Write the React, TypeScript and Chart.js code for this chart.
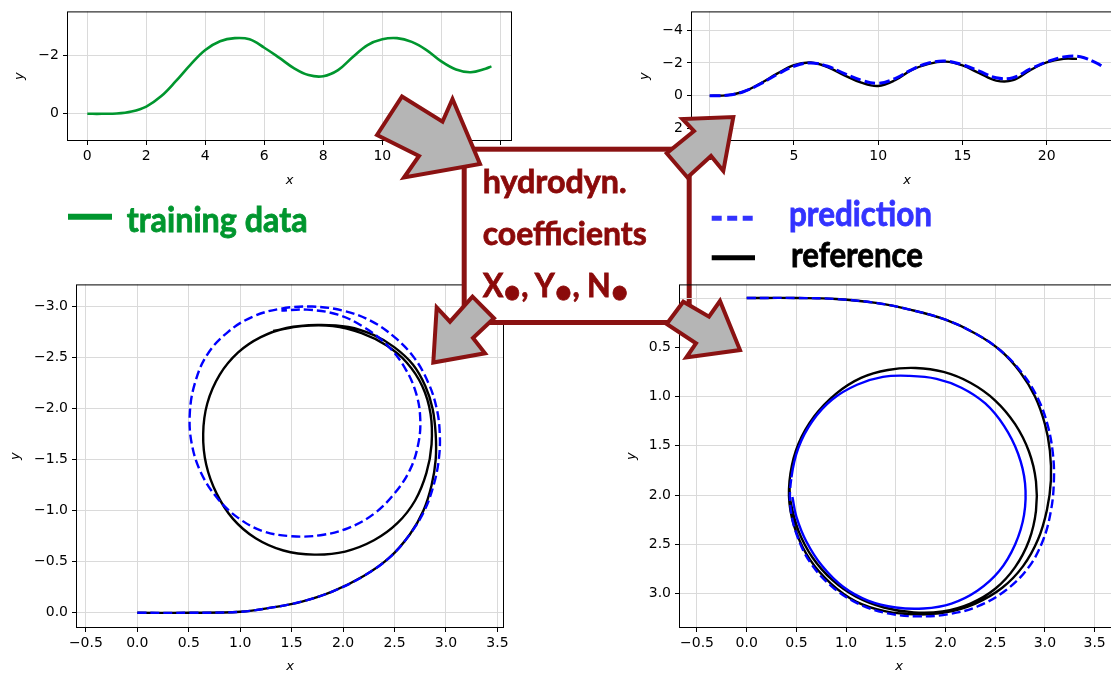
import React, { useEffect, useRef } from 'react';
import { Chart, registerables } from 'chart.js';

Chart.register(...registerables);

type XY = [number, number];

// ---- training trajectory (top-left) ----
const trainingXY: XY[] = [
  [0, 0], [0.5, 0], [1, -0.01], [1.5, -0.08], [2, -0.25], [2.5, -0.6], [3, -1.12], [3.5, -1.69],
  [4, -2.19], [4.5, -2.49], [5, -2.6], [5.5, -2.56], [6, -2.27], [6.5, -1.93], [7, -1.57],
  [7.5, -1.33], [8, -1.29], [8.5, -1.5], [9, -1.95], [9.5, -2.36], [10, -2.56], [10.5, -2.6],
  [11, -2.47], [11.5, -2.19], [12, -1.8], [12.5, -1.52], [13, -1.43], [13.5, -1.55], [13.7, -1.63],
];

// ---- test trajectory (top-right) ----
const testPredXY: XY[] = [
  [0, 0], [1, -0.03], [2, -0.25], [3, -0.72], [4, -1.3], [5, -1.8], [6, -2.0], [7, -1.8],
  [8, -1.35], [9, -0.95], [10, -0.76], [11, -1.05], [12, -1.6], [13, -2.0], [14, -2.12],
  [15, -1.9], [16, -1.5], [17, -1.1], [18, -1.1], [19, -1.62], [20, -2.06], [21, -2.36],
  [22, -2.38], [23, -1.98], [23.3, -1.8],
];
const testRefXY: XY[] = [
  [0, 0], [1, -0.03], [2, -0.25], [3, -0.75], [4, -1.35], [5, -1.87], [6, -2.03], [7, -1.75],
  [8, -1.25], [9, -0.8], [10, -0.6], [11, -0.95], [12, -1.58], [13, -1.95], [14, -2.08],
  [15, -1.85], [16, -1.38], [17, -0.93], [18, -0.95], [19, -1.55], [20, -2.03], [21, -2.25],
  [21.8, -2.25],
];

// ---- turning circle to port (bottom-left) ----
const portPredXY: XY[] = [
  [0, 0], [0.5, 0], [1.0, -0.01], [1.3, -0.05], [1.6, -0.11], [1.9, -0.21], [2.2, -0.36],
  [2.45, -0.54], [2.65, -0.77], [2.79, -1.0], [2.88, -1.25], [2.93, -1.5], [2.94, -1.75],
  [2.91, -2.0], [2.83, -2.25], [2.69, -2.5], [2.5, -2.7], [2.27, -2.86], [2.0, -2.96],
  [1.7, -3.0], [1.4, -2.98], [1.12, -2.9], [0.88, -2.75], [0.68, -2.53], [0.56, -2.25],
  [0.51, -1.95], [0.53, -1.65], [0.62, -1.37], [0.78, -1.12], [0.98, -0.93], [1.22, -0.8],
  [1.5, -0.75], [1.78, -0.76], [2.05, -0.83], [2.3, -0.97], [2.5, -1.17], [2.65, -1.4],
  [2.73, -1.65], [2.75, -1.9], [2.71, -2.15], [2.6, -2.4], [2.43, -2.62], [2.2, -2.8],
  [1.95, -2.92], [1.65, -2.97], [1.4, -2.96],
];
const portRefXY: XY[] = [
  [0, 0], [0.5, 0], [1.0, -0.01], [1.3, -0.05], [1.6, -0.11], [1.9, -0.21], [2.2, -0.36],
  [2.45, -0.54], [2.65, -0.77], [2.78, -1.0], [2.86, -1.25], [2.9, -1.5], [2.9, -1.75],
  [2.87, -2.0], [2.8, -2.22], [2.68, -2.43], [2.5, -2.6], [2.3, -2.72], [2.05, -2.8],
  [1.75, -2.82], [1.45, -2.79], [1.2, -2.7], [0.98, -2.55], [0.8, -2.33], [0.68, -2.05],
  [0.64, -1.75], [0.67, -1.45], [0.77, -1.17], [0.93, -0.92], [1.15, -0.73], [1.42, -0.61],
  [1.72, -0.57], [2.02, -0.6], [2.3, -0.71], [2.53, -0.88], [2.7, -1.1], [2.81, -1.37],
  [2.86, -1.65], [2.85, -1.95], [2.77, -2.22], [2.62, -2.45], [2.42, -2.62], [2.18, -2.74],
  [1.9, -2.81], [1.6, -2.81], [1.32, -2.76],
];

// ---- turning circle to starboard (bottom-right) ----
const stbdPredXY: XY[] = [
  [0, 0], [0.5, 0], [0.9, 0.01], [1.3, 0.05], [1.65, 0.12], [2.0, 0.22], [2.3, 0.36],
  [2.55, 0.53], [2.77, 0.76], [2.93, 1.02], [3.03, 1.3], [3.08, 1.58], [3.09, 1.86],
  [3.06, 2.16], [2.98, 2.46], [2.83, 2.74], [2.6, 2.97], [2.32, 3.13], [2.02, 3.21],
  [1.72, 3.23], [1.42, 3.2], [1.12, 3.1], [0.86, 2.93], [0.65, 2.7], [0.51, 2.42],
  [0.44, 2.12], [0.45, 1.82], [0.52, 1.52], [0.66, 1.25], [0.86, 1.03], [1.11, 0.88],
  [1.37, 0.8], [1.64, 0.79], [1.91, 0.82], [2.16, 0.91], [2.4, 1.07], [2.59, 1.3],
  [2.73, 1.58], [2.8, 1.88], [2.79, 2.2], [2.7, 2.5], [2.54, 2.77], [2.32, 2.97],
  [2.06, 3.1], [1.78, 3.15], [1.5, 3.14], [1.22, 3.07], [0.97, 2.93], [0.76, 2.72],
  [0.6, 2.47], [0.5, 2.22], [0.46, 2.02],
];
const stbdPredSolidFrom = 26;
const stbdRefXY: XY[] = [
  [0, 0], [0.5, 0], [0.9, 0.01], [1.3, 0.05], [1.65, 0.12], [2.0, 0.22], [2.3, 0.36],
  [2.55, 0.53], [2.75, 0.75], [2.9, 1.0], [3.0, 1.28], [3.05, 1.55], [3.06, 1.85],
  [3.02, 2.15], [2.93, 2.45], [2.78, 2.72], [2.57, 2.94], [2.3, 3.1], [2.0, 3.19],
  [1.7, 3.21], [1.4, 3.18], [1.1, 3.08], [0.85, 2.9], [0.64, 2.66], [0.5, 2.38],
  [0.43, 2.08], [0.44, 1.78], [0.52, 1.48], [0.68, 1.2], [0.9, 0.97], [1.15, 0.81],
  [1.42, 0.73], [1.7, 0.71], [1.98, 0.75], [2.25, 0.86], [2.5, 1.04], [2.7, 1.28],
  [2.84, 1.56], [2.91, 1.86], [2.91, 2.16], [2.84, 2.46], [2.7, 2.73], [2.5, 2.95],
  [2.25, 3.1], [1.97, 3.18], [1.68, 3.19], [1.38, 3.14], [1.1, 3.03], [0.86, 2.86],
  [0.66, 2.63], [0.52, 2.36], [0.44, 2.06], [0.43, 1.9],
];

// ---- tick steps ----
const topLeftTicks = { xStep: 2, yStep: 2 };
const topRightTicks = { xStep: 5, yStep: 2 };
const bottomTicks = { xStep: 0.5, yStep: 0.5 };

const GREEN = '#00962e';
const BLUE = '#0000ff';
const BLACK = '#000000';
const DARKRED = '#8a1212';

interface Series {
  data: XY[];
  color: string;
  width: number;
  dash?: number[];
  solidFrom?: number;
}
interface Panel {
  key: string;
  L: number; T: number; R: number; B: number;
  wy: number; hx: number;
  xMin: number; xMax: number; yMin: number; yMax: number;
  xStep: number; yStep: number; dec: number;
  series: Series[];
  hideY?: number;
}

const fmt = (v: number, dec: number) => {
  const val = Math.abs(v) < 1e-9 ? 0 : v;
  const s = val.toFixed(dec);
  return s.startsWith('-') ? '\u2212' + s.slice(1) : s;
};

const panels: Panel[] = [
  {
    key: 'tl', L: 67, T: 9, R: 512, B: 141, wy: 59, hx: 51,
    xMin: -0.688, xMax: 14.397, yMin: -3.518, yMax: 0.934,
    xStep: topLeftTicks.xStep, yStep: topLeftTicks.yStep, dec: 0,
    series: [{ data: trainingXY, color: GREEN, width: 2.6 }],
  },
  {
    key: 'tr', L: 691, T: 9, R: 1123, B: 141, wy: 58, hx: 51,
    xMin: -1.11, xMax: 24.53, yMin: -5.14, yMax: 2.75,
    xStep: topRightTicks.xStep, yStep: topRightTicks.yStep, dec: 0,
    series: [
      { data: testPredXY, color: BLUE, width: 3, dash: [11, 4] },
      { data: testRefXY, color: BLACK, width: 2.4 },
    ],
  },
  {
    key: 'bl', L: 76, T: 282, R: 504, B: 628, wy: 72, hx: 50,
    xMin: -0.596, xMax: 3.564, yMin: -3.217, yMax: 0.149,
    xStep: bottomTicks.xStep, yStep: bottomTicks.yStep, dec: 1,
    series: [
      { data: portPredXY, color: BLUE, width: 2.4, dash: [9, 4] },
      { data: portRefXY, color: BLACK, width: 2.4 },
    ],
  },
  {
    key: 'br', L: 679, T: 282, R: 1119, B: 628, wy: 59, hx: 50,
    xMin: -0.681, xMax: 3.745, yMin: -0.138, yMax: 3.348,
    xStep: bottomTicks.xStep, yStep: bottomTicks.yStep, dec: 1,
    series: [
      { data: stbdPredXY, color: BLUE, width: 2.4, dash: [9, 4], solidFrom: stbdPredSolidFrom },
      { data: stbdRefXY, color: BLACK, width: 2.4 },
    ],
    hideY: 0,
  },
];

const framePlugin = {
  id: 'frame',
  afterDatasetsDraw(chart: any) {
    const { ctx, chartArea: a } = chart;
    ctx.save();
    ctx.strokeStyle = '#000';
    ctx.lineWidth = 1;
    ctx.strokeRect(a.left + 0.5, a.top + 0.5, a.right - a.left - 1, a.bottom - a.top - 1);
    ctx.restore();
  },
};

const PAD_T = 10;
const PAD_R = 20;
const TICK_FONT = { family: 'DejaVu Sans', size: 14 };
const TITLE_FONT = { family: 'DejaVu Sans', size: 13, style: 'italic' as const };

function PanelChart({ p, z }: { p: Panel; z: number }) {
  const ref = useRef<HTMLCanvasElement>(null);
  const width = p.wy + (p.R - p.L) + PAD_R;
  const height = PAD_T + (p.B - p.T) + p.hx;

  useEffect(() => {
    const chart = new Chart(ref.current as HTMLCanvasElement, {
      type: 'scatter',
      data: {
        datasets: p.series.map((s) => ({
          data: s.data.map(([x, y]) => ({ x, y })),
          showLine: true,
          borderColor: s.color,
          backgroundColor: s.color,
          borderWidth: s.width,
          pointRadius: 0,
          pointHoverRadius: 0,
          tension: 0.38,
          borderDash: s.dash ?? [],
          borderCapStyle: 'butt',
          borderJoinStyle: 'round',
          segment:
            s.solidFrom !== undefined
              ? {
                  borderDash: (ctx: any) =>
                    ctx.p0DataIndex >= (s.solidFrom as number) ? [] : (s.dash ?? []),
                }
              : undefined,
        })) as any,
      },
      options: {
        animation: false,
        responsive: false,
        devicePixelRatio: 1,
        events: [],
        layout: { padding: { top: PAD_T, right: PAD_R, left: 0, bottom: 0 } },
        plugins: { legend: { display: false }, tooltip: { enabled: false } },
        scales: {
          x: {
            type: 'linear',
            min: p.xMin,
            max: p.xMax,
            afterFit: (s: any) => {
              s.height = p.hx;
            },
            ticks: {
              stepSize: p.xStep,
              includeBounds: false,
              autoSkip: false,
              maxRotation: 0,
              padding: 3,
              color: '#000',
              font: TICK_FONT,
              callback: (v: any) => fmt(Number(v), p.dec),
            },
            grid: { color: '#dadada', lineWidth: 1, tickColor: '#000', tickLength: 4, drawTicks: true },
            border: { display: false },
            title: { display: true, text: 'x', color: '#000', font: TITLE_FONT, padding: { top: 0, bottom: 4 } },
          },
          y: {
            type: 'linear',
            reverse: true,
            min: p.yMin,
            max: p.yMax,
            afterFit: (s: any) => {
              s.width = p.wy;
            },
            ticks: {
              stepSize: p.yStep,
              includeBounds: false,
              autoSkip: false,
              padding: 4,
              color: '#000',
              font: TICK_FONT,
              callback: (v: any) =>
                p.hideY !== undefined && Math.abs(Number(v) - p.hideY) < 1e-9 ? '' : fmt(Number(v), p.dec),
            },
            grid: {
              color: '#dadada',
              lineWidth: 1,
              tickColor: (ctx: any) =>
                p.hideY !== undefined && ctx.tick && Math.abs(ctx.tick.value - p.hideY) < 1e-9
                  ? 'rgba(0,0,0,0)'
                  : '#000',
              tickLength: 4,
              drawTicks: true,
            },
            border: { display: false },
            title: { display: true, text: 'y', color: '#000', font: TITLE_FONT, padding: { top: 4, bottom: 0 } },
          },
        },
      } as any,
      plugins: [framePlugin],
    });
    return () => chart.destroy();
  }, []);

  return (
    <canvas
      ref={ref}
      width={width}
      height={height}
      style={{ position: 'absolute', left: p.L - p.wy, top: p.T - PAD_T, width, height, zIndex: z }}
    />
  );
}

const arrows: XY[][] = [
  [[377, 135], [402, 96.5], [442.5, 121.7], [452.5, 99], [480, 164], [404, 177.5], [419, 156]],
  [[666.7, 153.3], [694, 131], [682.5, 119], [733.3, 117], [723.3, 171], [711, 156], [687.5, 177.5]],
  [[472.5, 296.7], [494, 318.3], [473, 338], [485, 353.3], [433.3, 362.5], [436.7, 307.5], [450, 321.7]],
  [[666.7, 324], [683.3, 301.7], [709, 316.7], [720, 301], [740, 350], [686.3, 357.5], [696, 343.3]],
];

const LEG_FONT = 'Lato, "Open Sans", sans-serif';

function Labels() {
  const txt = (color: string) => ({
    fill: color,
    stroke: color,
    strokeWidth: 0.8,
    fontFamily: LEG_FONT,
    fontWeight: 700 as const,
  });
  return (
    <svg width={1111} height={675} style={{ position: 'absolute', left: 0, top: 0, zIndex: 4 }}>
      {/* legend */}
      <line x1={68} y1={216.7} x2={112} y2={216.7} stroke="#00962e" strokeWidth={6} />
      <text x={126.7} y={231.7} fontSize={34} textLength={181} lengthAdjust="spacingAndGlyphs" {...txt('#00962e')}>
        training data
      </text>
      <line x1={711.7} y1={218.3} x2={753} y2={218.3} stroke="#3333ff" strokeWidth={5} strokeDasharray="10 5.5" />
      <text x={789} y={225.5} fontSize={34} textLength={143} lengthAdjust="spacingAndGlyphs" {...txt('#3333ff')}>
        prediction
      </text>
      <line x1={711.7} y1={257.7} x2={755} y2={257.7} stroke="#000" strokeWidth={5} />
      <text x={791} y={267.2} fontSize={34} textLength={132} lengthAdjust="spacingAndGlyphs" {...txt('#000')}>
        reference
      </text>
      {/* coefficient box */}
      <rect x={464.2} y={149.2} width={225} height={173.3} fill="#fff" stroke={DARKRED} strokeWidth={5} />
      <text x={482.7} y={193.3} fontSize={33} textLength={144} lengthAdjust="spacingAndGlyphs" {...txt('#8b0a0a')}>
        hydrodyn.
      </text>
      <text x={482.7} y={245} fontSize={33} textLength={164} lengthAdjust="spacingAndGlyphs" {...txt('#8b0a0a')}>
        coefficients
      </text>
      <text x={482.7} y={296.7} fontSize={33} textLength={146} lengthAdjust="spacingAndGlyphs" {...txt('#8b0a0a')}>
        X<tspan dy={6}>•</tspan>
        <tspan dy={-6}>, Y</tspan>
        <tspan dy={6}>•</tspan>
        <tspan dy={-6}>, N</tspan>
        <tspan dy={6}>•</tspan>
      </text>
    </svg>
  );
}

function Arrows() {
  return (
    <svg width={1111} height={675} style={{ position: 'absolute', left: 0, top: 0, zIndex: 6 }}>
      {arrows.map((pts, i) => (
        <polygon
          key={i}
          points={pts.map(([x, y]) => `${x},${y}`).join(' ')}
          fill="#b5b5b5"
          stroke={DARKRED}
          strokeWidth={4}
          strokeLinejoin="miter"
        />
      ))}
    </svg>
  );
}

export default function App() {
  return (
    <div
      style={{
        position: 'fixed',
        left: 0,
        top: 0,
        width: 1111,
        height: 675,
        overflow: 'hidden',
        background: '#fff',
      }}
    >
      <PanelChart p={panels[0]} z={1} />
      <PanelChart p={panels[1]} z={2} />
      <PanelChart p={panels[2]} z={3} />
      <Labels />
      <PanelChart p={panels[3]} z={5} />
      <Arrows />
    </div>
  );
}
